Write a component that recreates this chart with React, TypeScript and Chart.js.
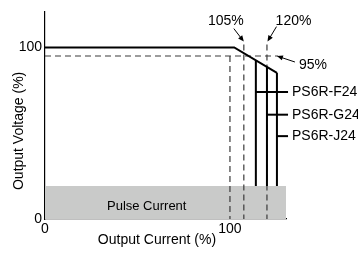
import React, { useEffect, useRef } from "react";
import { Chart, registerables } from "chart.js";

Chart.register(...registerables);

// ---- data ----
const curveX = [0, 102.3, 125.4];
const curveY = [100, 100, 85.2];
const models = ["PS6R-F24", "PS6R-G24", "PS6R-J24"];
const modelLimitX = [114, 120, 125.4];
const modelTopY = [92.4, 88.6, 85.2];
const modelLabelY = [74, 60.8, 48.3];
const leaderEndX = 131.4;
const pulseTop = 19.3;
const pulseLabel = "Pulse Current";
const refVoltage = 95;
const refVoltageEndX = 126;
const refCurrentX = [100, 107.5, 120];
const refCurrentTopY = [95, 101.7, 101.7];
const xTicks = [0, 100];
const yTicks = [0, 100];
const xMax = 130.3;
const yMax = 121;
const arrowLabels = ["105%", "120%", "95%"];
const arrowHeadX = [107.5, 120.3, 125.4];
const arrowHeadY = [103.4, 103.4, 95];
const xTitle = "Output Current (%)";
const yTitle = "Output Voltage (%)";

const FONT = "'Liberation Sans', Arial, Helvetica, sans-serif";

function drawArrow(ctx: CanvasRenderingContext2D, x0: number, y0: number, x1: number, y1: number) {
  const ang = Math.atan2(y1 - y0, x1 - x0);
  const len = 6;
  const hw = 2.6;
  ctx.beginPath();
  ctx.moveTo(x0, y0);
  ctx.lineTo(x1 - Math.cos(ang) * len * 0.8, y1 - Math.sin(ang) * len * 0.8);
  ctx.stroke();
  ctx.beginPath();
  ctx.moveTo(x1, y1);
  ctx.lineTo(x1 - Math.cos(ang) * len - Math.sin(ang) * hw, y1 - Math.sin(ang) * len + Math.cos(ang) * hw);
  ctx.lineTo(x1 - Math.cos(ang) * len + Math.sin(ang) * hw, y1 - Math.sin(ang) * len - Math.cos(ang) * hw);
  ctx.closePath();
  ctx.fill();
}

const textPlugin = {
  id: "texts",
  afterDraw(chart: any) {
    const { ctx, chartArea } = chart;
    const xs = chart.scales.x;
    const ys = chart.scales.y;
    ctx.save();
    ctx.fillStyle = "#000";
    ctx.strokeStyle = "#000";
    ctx.lineWidth = 1;

    // pulse label
    ctx.font = `13px ${FONT}`;
    ctx.textAlign = "center";
    ctx.textBaseline = "alphabetic";
    ctx.fillText(pulseLabel, xs.getPixelForValue(55), ys.getPixelForValue(pulseTop) + 24);

    // model labels
    ctx.font = `14px ${FONT}`;
    ctx.textAlign = "left";
    ctx.textBaseline = "middle";
    models.forEach((m, i) => {
      ctx.fillText(m, xs.getPixelForValue(leaderEndX) + 4, ys.getPixelForValue(modelLabelY[i]) + 0.5);
    });

    // arrows + labels
    const tailOff = [[-10, -13], [9, -15], [18, 6]];
    arrowLabels.forEach((lab, i) => {
      const hx = xs.getPixelForValue(arrowHeadX[i]);
      const hy = ys.getPixelForValue(arrowHeadY[i]);
      const tx = hx + tailOff[i][0];
      const ty = hy + tailOff[i][1];
      drawArrow(ctx, tx, ty, hx, hy);
      ctx.textBaseline = "alphabetic";
      if (i === 2) {
        ctx.textAlign = "left";
        ctx.fillText(lab, tx + 4, ty + 7);
      } else {
        ctx.textAlign = "center";
        ctx.fillText(lab, i === 0 ? tx - 8 : tx + 17, ty - 4 + (i === 1 ? 2 : 0));
      }
    });

    // axis titles
    ctx.font = `14px ${FONT}`;
    ctx.textAlign = "center";
    ctx.textBaseline = "middle";
    ctx.fillText(xTitle, chartArea.left + 112, chartArea.bottom + 21);
    ctx.translate(chartArea.left - 26, chartArea.top + 119.5);
    ctx.rotate(-Math.PI / 2);
    ctx.fillText(yTitle, 0, 0);
    ctx.restore();
  },
};

export default function App() {
  const ref = useRef<HTMLCanvasElement>(null);
  useEffect(() => {
    if (!ref.current) return;
    Chart.defaults.font.family = FONT;
    const solid = (pts: { x: number; y: number }[]) => ({
      data: pts,
      showLine: true,
      borderColor: "#000",
      borderWidth: 2,
      pointRadius: 0,
      fill: false,
      clip: false as any,
    });
    const dashed = (pts: { x: number; y: number }[]) => ({
      data: pts,
      showLine: true,
      borderColor: "#3a3a3a",
      borderWidth: 1.2,
      borderDash: [6, 4],
      pointRadius: 0,
      fill: false,
      clip: false as any,
    });
    const datasets: any[] = [];
    datasets.push(solid(curveX.map((x, i) => ({ x, y: curveY[i] }))));
    modelLimitX.forEach((x, i) => {
      datasets.push(solid([{ x, y: modelTopY[i] }, { x, y: pulseTop }]));
      datasets.push(solid([{ x, y: modelLabelY[i] }, { x: leaderEndX, y: modelLabelY[i] }]));
    });
    datasets.push(dashed([{ x: 0, y: refVoltage }, { x: refVoltageEndX, y: refVoltage }]));
    refCurrentX.forEach((x, i) => {
      datasets.push(dashed([{ x, y: refCurrentTopY[i] }, { x, y: 0 }]));
    });
    datasets.push({
      data: [{ x: 0, y: pulseTop }, { x: xMax, y: pulseTop }],
      showLine: true,
      borderWidth: 0,
      borderColor: "rgba(0,0,0,0)",
      backgroundColor: "#c9cac9",
      pointRadius: 0,
      fill: "origin",
    });

    const chart = new Chart(ref.current, {
      type: "scatter",
      data: { datasets },
      options: {
        animation: false,
        responsive: false,
        layout: { padding: { left: 0, right: 72, top: 6, bottom: 0 } },
        plugins: { legend: { display: false }, tooltip: { enabled: false } },
        scales: {
          x: {
            type: "linear",
            min: 0,
            max: xMax,
            grid: { display: false, drawTicks: false },
            border: { display: true, color: "#000", width: 1.2 },
            ticks: { color: "#000", font: { size: 14 }, padding: 2 },
            afterBuildTicks: (s: any) => { s.ticks = xTicks.map((v) => ({ value: v })); },
            afterFit: (s: any) => { s.height = 37; },
          },
          y: {
            type: "linear",
            min: 0,
            max: yMax,
            grid: { display: false, drawTicks: false },
            border: { display: true, color: "#000", width: 1.2 },
            ticks: { color: "#000", font: { size: 14 }, padding: 3 },
            afterBuildTicks: (s: any) => { s.ticks = yTicks.map((v) => ({ value: v })); },
            afterFit: (s: any) => { s.width = 45; },
          },
        },
      },
      plugins: [textPlugin],
    } as any);
    return () => chart.destroy();
  }, []);
  return (
    <div style={{ position: "absolute", left: 0, top: 0, width: 358, height: 256, background: "#fff" }}>
      <canvas ref={ref} width={358} height={256} style={{ display: "block" }} />
    </div>
  );
}
